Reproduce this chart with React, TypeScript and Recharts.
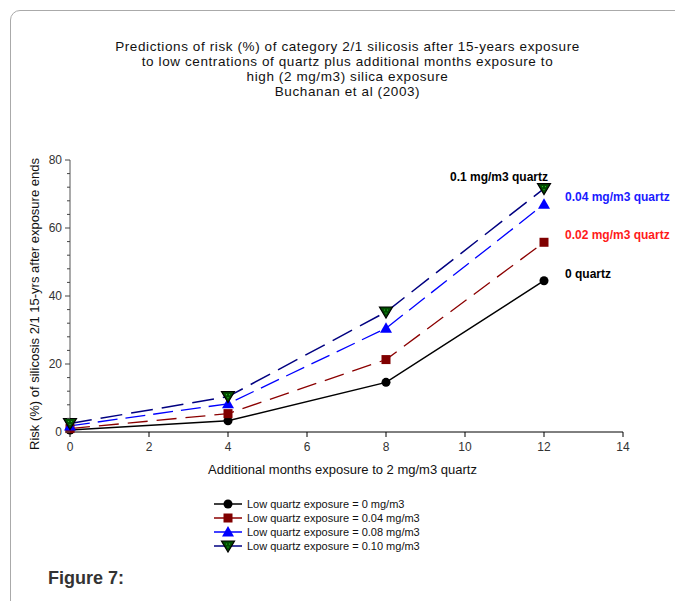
import React from "react";
import { LineChart, Line, XAxis, YAxis, Legend, LabelList } from "recharts";

const months = [0, 4, 8, 12];
const q0 = [0.6, 3.3, 14.6, 44.5];
const q004 = [1.0, 5.4, 21.3, 55.8];
const q008 = [1.8, 8.3, 30.5, 67.0];
const q010 = [2.5, 10.4, 35.3, 71.6];
const xTicks = [0, 2, 4, 6, 8, 10, 12, 14];
const yTicks = [0, 4, 8, 12, 16, 20, 24, 28, 32, 36, 40, 44, 48, 52, 56, 60, 64, 68, 72, 76, 80];
const seriesNames = [
  "Low quartz exposure = 0 mg/m3",
  "Low quartz exposure = 0.04 mg/m3",
  "Low quartz exposure = 0.08 mg/m3",
  "Low quartz exposure = 0.10 mg/m3",
];
const endLabels = ["0 quartz", "0.02 mg/m3 quartz", "0.04 mg/m3 quartz", "0.1 mg/m3 quartz"];

const data = months.map((m, i) => ({ m, a: q0[i], b: q004[i], c: q008[i], d: q010[i] }));

const FONT = "'Liberation Sans', Arial, sans-serif";

function Marker({ kind, cx, cy }: { kind: number; cx: number; cy: number }) {
  if (kind === 0) return <circle cx={cx} cy={cy} r={4.5} fill="#000" />;
  if (kind === 1) return <rect x={cx - 4.5} y={cy - 4.5} width={9} height={9} fill="#800000" />;
  if (kind === 2)
    return <polygon points={`${cx},${cy - 6} ${cx + 6},${cy + 4.5} ${cx - 6},${cy + 4.5}`} fill="#0000ff" />;
  return (
    <g>
      <polygon
        points={`${cx - 6.5},${cy - 5} ${cx + 6.5},${cy - 5} ${cx},${cy + 6}`}
        fill="#004d00"
        stroke="#000"
        strokeWidth={1.2}
      />
      <circle cx={cx - 1.5} cy={cy - 2} r={0.6} fill="#3c3" />
      <circle cx={cx + 1.5} cy={cy - 2} r={0.6} fill="#3c3" />
      <circle cx={cx} cy={cy + 1} r={0.6} fill="#3c3" />
    </g>
  );
}

const dotFor = (kind: number) => (props: any) => {
  const { cx, cy, index } = props;
  if (cx == null || cy == null) return <g key={`n${kind}-${index}`} />;
  return (
    <g key={`d${kind}-${index}`}>
      <Marker kind={kind} cx={cx} cy={cy} />
    </g>
  );
};

const labelColors = ["#000", "#ff1a1a", "#1a1aff", "#000"];

const endLabel = (kind: number) => (props: any) => {
  const { x, y, index } = props;
  if (index !== months.length - 1) return null;
  const isTop = kind === 3;
  return (
    <text
      x={isTop ? x + 4 : x + 21}
      y={isTop ? y - 12 : y - 7}
      dy="0.35em"
      textAnchor={isTop ? "end" : "start"}
      fill={labelColors[kind]}
      fontSize={12}
      fontWeight="bold"
      fontFamily={FONT}
    >
      {endLabels[kind]}
    </text>
  );
};

const YTick = (props: any) => {
  const { x, y, payload } = props;
  const v = payload.value;
  const major = v % 20 === 0;
  return (
    <g>
      <line x1={x} x2={x - (major ? 5 : 3)} y1={y} y2={y} stroke="#444" strokeWidth={1} />
      {major && (
        <text x={x - 8} y={y} dy="0.35em" textAnchor="end" fontSize={12} fill="#333" fontFamily={FONT}>
          {v}
        </text>
      )}
    </g>
  );
};

const lineColors = ["#000000", "#8b0000", "#0000ff", "#000080"];

const LegendContent = () => (
  <div style={{ fontFamily: FONT, fontSize: 11, color: "#111", textAlign: "left" }}>
    {seriesNames.map((n, i) => (
      <div key={n} style={{ display: "flex", alignItems: "center", height: 14 }}>
        <svg width={30} height={14} style={{ marginRight: 4 }}>
          <line x1={1} x2={29} y1={7} y2={7} stroke={lineColors[i]} strokeWidth={1.5} />
          <Marker kind={i} cx={15} cy={7} />
        </svg>
        <span>{n}</span>
      </div>
    ))}
  </div>
);

export default function App() {
  return (
    <div style={{ position: "absolute", left: 0, top: 0, width: 675, height: 601, overflow: "hidden", background: "#fff" }}>
      <div
        style={{
          position: "absolute",
          left: 10,
          top: 10,
          width: 720,
          height: 640,
          border: "1px solid #aaa",
          borderRadius: 10,
        }}
      />
      <div
        style={{
          position: "absolute",
          left: 0,
          width: 695,
          top: 39,
          textAlign: "center",
          fontFamily: FONT,
          fontSize: 13.5,
          letterSpacing: 0.6,
          lineHeight: "15px",
          color: "#111",
        }}
      >
        <div>Predictions of risk (%) of category 2/1 silicosis after 15-years exposure</div>
        <div>to low centrations of quartz plus additional months exposure to</div>
        <div>high (2 mg/m3) silica exposure</div>
        <div>Buchanan et al (2003)</div>
      </div>
      <div style={{ position: "absolute", left: 0, top: 0 }}>
        <LineChart
          width={675}
          height={601}
          data={data}
          margin={{ top: 160, right: 52, bottom: 139, left: 30 }}
        >
          <XAxis
            dataKey="m"
            type="number"
            domain={[0, 14]}
            ticks={xTicks}
            interval={0}
            height={30}
            stroke="#000"
            tickSize={5}
            tickMargin={5}
            tick={{ fontSize: 12, fill: "#333", fontFamily: FONT }}
            label={{
              value: "Additional months exposure to 2 mg/m3 quartz",
              position: "insideBottom",
              offset: -12,
              dx: -4,
              fontSize: 13,
              fill: "#111",
              fontFamily: FONT,
            }}
          />
          <YAxis
            type="number"
            domain={[0, 80]}
            ticks={yTicks}
            interval={0}
            width={40}
            stroke="#555"
            tickLine={false}
            tickSize={0}
            tickMargin={0}
            tick={<YTick />}
            label={{
              value: "Risk (%) of silicosis 2/1 15-yrs after exposure ends",
              angle: -90,
              position: "center",
              dx: -16,
              dy: 8,
              fontSize: 13,
              fill: "#111",
              fontFamily: FONT,
            }}
          />
          <Legend
            verticalAlign="middle"
            align="center"
            layout="vertical"
            content={<LegendContent />}
            wrapperStyle={{ position: "absolute", left: 213, top: 497, width: 260 }}
          />
          <Line dataKey="a" name={seriesNames[0]} stroke={lineColors[0]} strokeWidth={1.5} dot={dotFor(0)} isAnimationActive={false}>
            <LabelList content={endLabel(0)} />
          </Line>
          <Line dataKey="b" name={seriesNames[1]} stroke={lineColors[1]} strokeWidth={1.3} strokeDasharray="20 9" dot={dotFor(1)} isAnimationActive={false}>
            <LabelList content={endLabel(1)} />
          </Line>
          <Line dataKey="c" name={seriesNames[2]} stroke={lineColors[2]} strokeWidth={1.3} strokeDasharray="20 8" dot={dotFor(2)} isAnimationActive={false}>
            <LabelList content={endLabel(2)} />
          </Line>
          <Line dataKey="d" name={seriesNames[3]} stroke={lineColors[3]} strokeWidth={1.5} strokeDasharray="22 9" dot={dotFor(3)} isAnimationActive={false}>
            <LabelList content={endLabel(3)} />
          </Line>
        </LineChart>
      </div>
      <div
        style={{
          position: "absolute",
          left: 48,
          top: 568,
          fontFamily: FONT,
          fontSize: 18,
          fontWeight: "bold",
          color: "#333",
        }}
      >
        Figure 7:
      </div>
    </div>
  );
}
